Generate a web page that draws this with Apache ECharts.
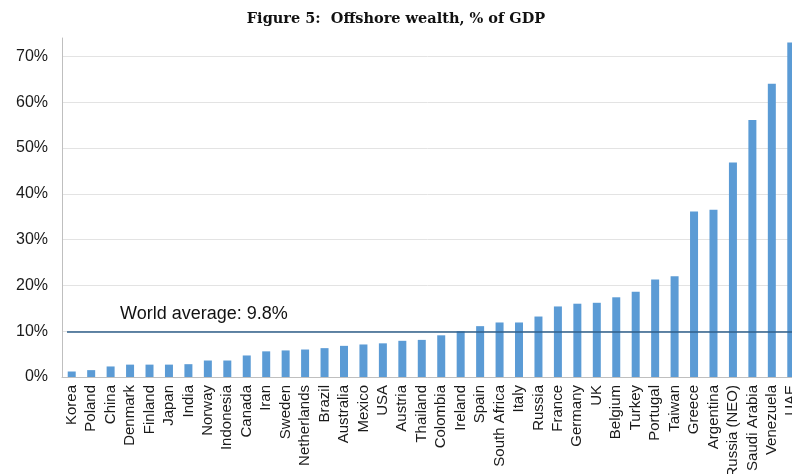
<!DOCTYPE html>
<html>
<head>
<meta charset="utf-8">
<script src="https://cdn.jsdelivr.net/npm/echarts@6/dist/echarts.min.js"></script>
<style>
html,body{margin:0;padding:0;background:#fff;overflow:hidden}
#Chart{width:792px;height:474px}
</style>
</head>
<body>
<div id="Chart"></div>
<script>
//数据
var countries=["Korea","Poland","China","Denmark","Finland","Japan","India","Norway","Indonesia","Canada",
    "Iran","Sweden","Netherlands","Brazil","Australia","Mexico","USA","Austria","Thailand","Colombia",
    "Ireland","Spain","South Africa","Italy","Russia","France","Germany","UK","Belgium","Turkey",
    "Portugal","Taiwan","Greece","Argentina","Russia (NEO)","Saudi Arabia","Venezuela","UAE"]
var offshore=[1.2,1.5,2.3,2.7,2.7,2.7,2.8,3.6,3.6,4.7,
    5.6,5.8,6.0,6.3,6.8,7.1,7.35,7.9,8.1,9.1,
    10.0,11.1,11.9,11.9,13.2,15.4,16.0,16.2,17.4,18.6,
    21.3,22.0,36.1,36.5,46.8,56.1,64.0,73.0]
var worldAvg=9.8
var yTicks=[0,10,20,30,40,50,60,70]

function drawChar(){
    var myChart=echarts.init(document.getElementById('Chart'))
    //顶部(74)不画网格线
    var gridColors=yTicks.map(function(){return '#e3e3e3'})
    gridColors.push('rgba(0,0,0,0)')
    var option={
        animation:false,
        title:{
            text:'Figure 5:  Offshore wealth, % of GDP',
            left:'center',
            top:7,
            textStyle:{fontFamily:'DejaVu Serif',fontWeight:'bold',fontSize:14.5,color:'#111'}
        },
        //图表右侧被裁切, 网格超出画布
        grid:{left:62,width:739,top:38,bottom:97,outerBoundsMode:'none',containLabel:false},
        xAxis:{
            type:'category',
            data:countries,
            axisLine:{lineStyle:{color:'#bfbfbf',width:1}},
            axisTick:{length:5,lineStyle:{color:'#bfbfbf'}},
            axisLabel:{rotate:90,interval:0,margin:8,fontFamily:'Liberation Sans',fontSize:15,color:'#1a1a1a'}
        },
        yAxis:{
            type:'value',
            min:0,
            max:74,
            interval:10,
            axisLine:{show:true,lineStyle:{color:'#bfbfbf',width:1}},
            axisTick:{show:false},
            splitLine:{lineStyle:{color:gridColors,width:1}},
            axisLabel:{
                margin:14,
                fontFamily:'Liberation Sans',fontSize:16,color:'#1a1a1a',
                formatter:function(v){return yTicks.indexOf(v)>=0?v+'%':''}
            }
        },
        series:[{
            type:'bar',
            data:offshore,
            barWidth:8,
            itemStyle:{color:'#5b9bd5'},
            markLine:{
                silent:true,
                symbol:['none','none'],
                data:[[{x:67,yAxis:worldAvg},{x:792,yAxis:worldAvg}]],
                lineStyle:{color:'#2f5f8a',width:1.5,type:'solid'},
                label:{show:false}
            }
        }],
        graphic:[{
            type:'text',
            left:120,
            top:305,
            style:{text:'World average: '+worldAvg+'%',font:'18px "Liberation Sans"',fill:'#111'}
        }]
    }
    myChart.setOption(option)
}
drawChar()
</script>
</body>
</html>
